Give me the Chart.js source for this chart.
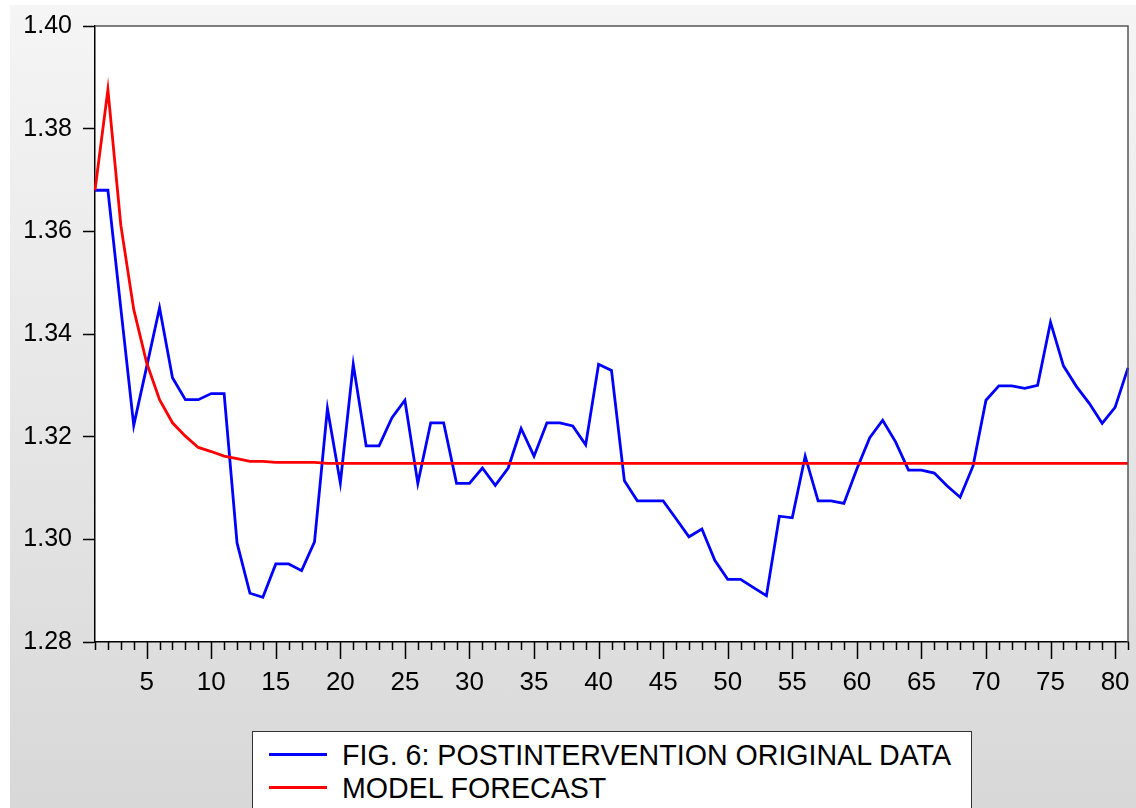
<!DOCTYPE html>
<html>
<head>
<meta charset="utf-8">
<script src="https://cdn.jsdelivr.net/npm/chart.js@4.4.0/dist/chart.umd.min.js"></script>
<style>
  html, body { margin: 0; padding: 0; background: #ffffff; }
  #wrap {
    position: absolute; left: 10px; top: 5px; width: 1126px; height: 803px;
    background: linear-gradient(#f5f5f5, #d8d8d8);
  }
  #chart { position: absolute; left: 0; top: 0; }
  #legend {
    position: absolute; left: 252px; top: 731px; width: 718px; height: 100px;
    background: #ffffff; border: 1px solid #333333;
    font-family: "Liberation Sans", Arial, sans-serif; font-size: 28.6px; color: #000;
  }
  .row { position: absolute; left: 0; height: 30px; }
  .swatch { position: absolute; left: 16px; top: 14px; width: 58px; height: 3px; }
  .label { position: absolute; left: 89px; top: 0px; white-space: nowrap; line-height: 32px; }
</style>
</head>
<body>
<div id="wrap"></div>
<canvas id="chart" width="1136" height="808"></canvas>
<div id="legend">
  <div class="row" style="top:7px"><div class="swatch" style="background:#0000ff"></div><div class="label">FIG. 6: POSTINTERVENTION ORIGINAL DATA</div></div>
  <div class="row" style="top:40px"><div class="swatch" style="background:#ff0000"></div><div class="label">MODEL FORECAST</div></div>
</div>
<script>
// periods 1..81
const periods = Array.from({ length: 81 }, (_, i) => i + 1);
const xTickLabels = [5, 10, 15, 20, 25, 30, 35, 40, 45, 50, 55, 60, 65, 70, 75, 80];
const yTickLabels = [1.28, 1.30, 1.32, 1.34, 1.36, 1.38, 1.40];

const originalData = [
  1.3680, 1.3680, 1.3450, 1.3222, 1.3336, 1.3451, 1.3315, 1.3272, 1.3272, 1.3284,
  1.3284, 1.2993, 1.2895, 1.2887, 1.2952, 1.2952, 1.2939, 1.2995, 1.3255, 1.3110,
  1.3341, 1.3182, 1.3182, 1.3237, 1.3271, 1.3109, 1.3227, 1.3227, 1.3109, 1.3109,
  1.3139, 1.3105, 1.3139, 1.3216, 1.3162, 1.3227, 1.3227, 1.3221, 1.3184, 1.3341,
  1.3329, 1.3114, 1.3075, 1.3075, 1.3075, 1.3040, 1.3005, 1.3020, 1.2959, 1.2922,
  1.2922, 1.2906, 1.2890, 1.3045, 1.3042, 1.3162, 1.3075, 1.3075, 1.3070, 1.3137,
  1.3198, 1.3232, 1.3190, 1.3135, 1.3135, 1.3129, 1.3104, 1.3082, 1.3143, 1.3271,
  1.3299, 1.3299, 1.3294, 1.3300, 1.3423, 1.3338, 1.3298, 1.3265, 1.3226, 1.3257,
  1.3334
];

const forecastData = [
  1.3680, 1.3876, 1.3612, 1.3448, 1.3344, 1.3272, 1.3227, 1.3201, 1.3179, 1.3171,
  1.3162, 1.3157, 1.3152, 1.3152, 1.3150, 1.3150, 1.3150, 1.3150, 1.3148, 1.3148,
  1.3148, 1.3148, 1.3148, 1.3148, 1.3148, 1.3148, 1.3148, 1.3148, 1.3148, 1.3148,
  1.3148, 1.3148, 1.3148, 1.3148, 1.3148, 1.3148, 1.3148, 1.3148, 1.3148, 1.3148,
  1.3148, 1.3148, 1.3148, 1.3148, 1.3148, 1.3148, 1.3148, 1.3148, 1.3148, 1.3148,
  1.3148, 1.3148, 1.3148, 1.3148, 1.3148, 1.3148, 1.3148, 1.3148, 1.3148, 1.3148,
  1.3148, 1.3148, 1.3148, 1.3148, 1.3148, 1.3148, 1.3148, 1.3148, 1.3148, 1.3148,
  1.3148, 1.3148, 1.3148, 1.3148, 1.3148, 1.3148, 1.3148, 1.3148, 1.3148, 1.3148,
  1.3148
];

const fontFamily = '"Liberation Sans", Arial, sans-serif';

// white plot background + frame + x tick marks (short every period, long every 5)
const framePlugin = {
  id: 'frame',
  beforeDraw(chart) {
    const a = chart.chartArea;
    const ctx = chart.ctx;
    ctx.save();
    ctx.fillStyle = '#ffffff';
    ctx.fillRect(a.left, a.top, a.right - a.left, a.bottom - a.top);
    ctx.restore();
  },
  afterDraw(chart) {
    const a = chart.chartArea;
    const ctx = chart.ctx;
    const x = chart.scales.x;
    ctx.save();
    ctx.strokeStyle = '#555555';
    ctx.lineWidth = 1.5;
    ctx.beginPath();
    ctx.moveTo(a.left, a.top);
    ctx.lineTo(a.right, a.top);
    ctx.lineTo(a.right, a.bottom);
    ctx.stroke();

    ctx.strokeStyle = '#000000';
    ctx.lineWidth = 1.5;
    ctx.beginPath();
    for (let i = 0; i < periods.length; i++) {
      const px = Math.round(x.getPixelForValue(i)) + 0.5;
      const len = xTickLabels.includes(periods[i]) ? 17 : 8;
      ctx.moveTo(px, a.bottom);
      ctx.lineTo(px, a.bottom + len);
    }
    ctx.stroke();
    ctx.restore();
  }
};

const ctx = document.getElementById('chart');
const chart = new Chart(ctx, {
  type: 'line',
  data: {
    labels: periods,
    datasets: [{
      label: 'FIG. 6: POSTINTERVENTION ORIGINAL DATA',
      data: originalData,
      borderColor: '#0000ff',
      borderWidth: 2.8,
      pointRadius: 0,
      tension: 0,
      order: 2
    },
    {
      label: 'MODEL FORECAST',
      data: forecastData,
      borderColor: '#ff0000',
      borderWidth: 2.8,
      pointRadius: 0,
      tension: 0,
      order: 1
    }]
  },
  options: {
    responsive: false,
    animation: false,
    devicePixelRatio: 1,
    layout: { padding: { top: 23, right: 8, left: 0, bottom: 0 } },
    plugins: {
      legend: { display: false },
      tooltip: { enabled: false }
    },
    scales: {
      x: {
        type: 'category',
        offset: false,
        border: { color: '#000000', width: 1.5 },
        grid: { display: true, drawOnChartArea: false, drawTicks: true, tickLength: 17, tickColor: 'rgba(0,0,0,0)' },
        ticks: {
          autoSkip: false,
          maxRotation: 0,
          padding: 8,
          color: '#000000',
          font: { family: fontFamily, size: 26 },
          callback: function (value, index) {
            return xTickLabels.includes(periods[index]) ? String(periods[index]) : '';
          }
        },
        afterFit: function (scale) { scale.height = 166; }
      },
      y: {
        min: yTickLabels[0],
        max: yTickLabels[yTickLabels.length - 1],
        border: { color: '#000000', width: 1.5 },
        grid: { display: true, drawOnChartArea: false, tickLength: 12, tickColor: '#000000', tickWidth: 1.5 },
        ticks: {
          stepSize: 0.02,
          padding: 11,
          color: '#000000',
          font: { family: fontFamily, size: 25 },
          callback: function (value) { return value.toFixed(2); }
        },
        afterFit: function (scale) { scale.width = 95; }
      }
    }
  },
  plugins: [framePlugin]
});
</script>
</body>
</html>
